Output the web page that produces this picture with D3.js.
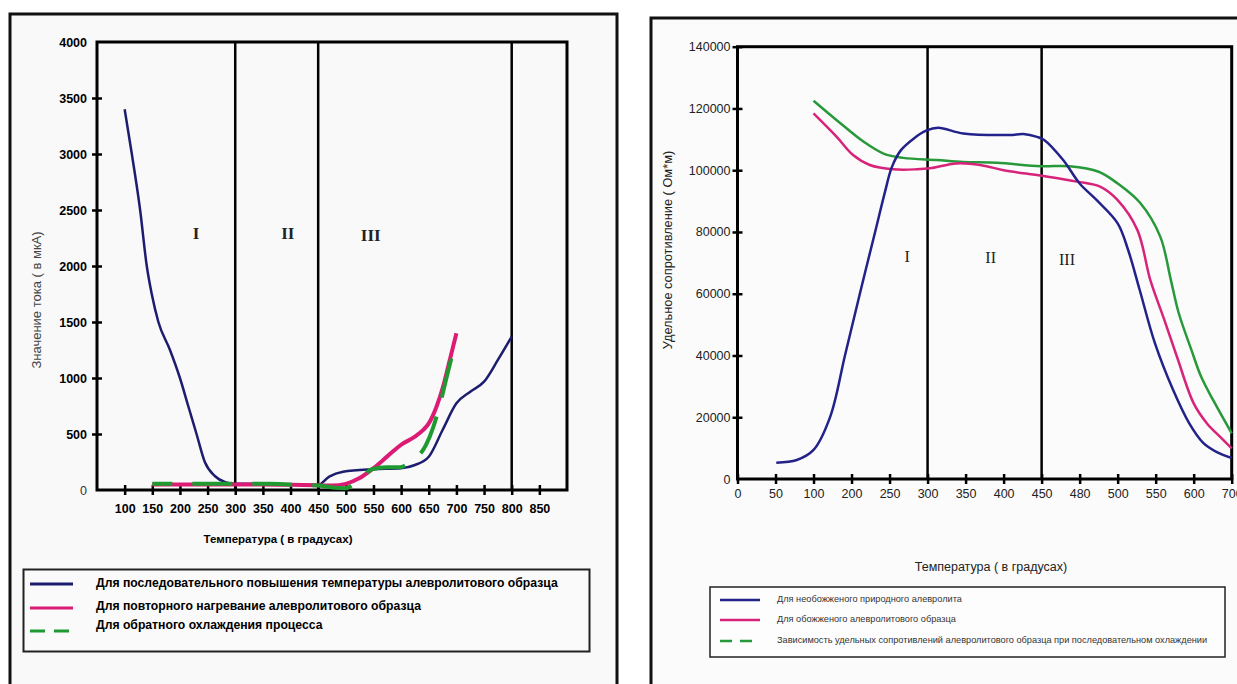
<!DOCTYPE html>
<html>
<head>
<meta charset="utf-8">
<script src="https://cdn.jsdelivr.net/npm/d3@7"></script>
<style>
  body { margin: 0; background: #fff; }
  svg { display: block; }
</style>
</head>
<body>
<svg id="chart" width="1237" height="684"></svg>
<script>
// ---------- Left chart: current (мкА) versus temperature ----------
const leftXTicks = [100, 150, 200, 250, 300, 350, 400, 450, 500, 550, 600, 650, 700, 750, 800, 850];
const leftYTicks = [0, 500, 1000, 1500, 2000, 2500, 3000, 3500, 4000];
const leftPhaseBounds = [300, 450, 800];
const leftPhaseLabels = ["I", "II", "III"];
const leftPhaseLabelAt = [[229, 2280], [395, 2280], [545, 2260]];

// sequential heating (temperature, current)
const leftHeating = [[100,3400],[113,3000],[128,2500],[140,2000],[149,1750],[161,1500],[182,1250],[200,1000],
  [215,750],[230,500],[245,250],[263,125],[282,70],[300,55],[350,55],[400,50],[450,45],[470,120],[495,163],
  [550,185],[600,194],[625,223],[650,297],[675,536],[700,774],[725,878],[750,967],[775,1161],[800,1369]];
// repeated heating
const leftReheating = [[150,50],[200,50],[250,50],[300,50],[350,50],[400,47],[450,42],[475,40],[500,55],
  [524,104],[550,195],[575,300],[601,408],[625,476],[640,536],[650,595],[664,744],[675,908],[688,1161],[700,1399]];
// reverse cooling
const leftCooling = [[150,55],[200,55],[250,55],[300,55],[350,55],[380,54],[410,45],[450,40],[475,22],[500,15],
  [514,54],[530,120],[547,185],[574,203],[598,203],[616,253],[645,402],[658,560],[670,760],[683,1020],[697,1300]];

const leftLegend = [
  "Для последовательного повышения температуры алевролитового образца",
  "Для повторного нагревание алевролитового образца",
  "Для обратного охлаждения процесса"
];

// ---------- Right chart: resistivity (Ом*м) versus temperature ----------
const rightXTicks = [0, 50, 100, 200, 250, 300, 350, 400, 450, 480, 500, 550, 600, 700];
const rightYTicks = [0, 20000, 40000, 60000, 80000, 100000, 120000, 140000];
const rightPhaseBounds = [300, 450];
const rightPhaseLabels = ["I", "II", "III"];
const rightPhaseLabelAt = [[273, 71500], [383, 71000], [470, 70500]];

// unburnt natural siltstone
const rightUnburnt = [[51,5300],[78,6150],[100,9400],[144,20200],[183,40150],[211,60100],[231,80000],
  [244,93000],[253,101000],[265,106500],[282,110300],[298,112800],[314,113750],[347,111900],[408,111400],
  [426,111700],[444,110800],[452,109800],[467,103300],[480,95700],[489,90300],[500,82800],[514,74000],
  [529,61200],[549,44000],[573,28800],[594,18100],[625,11700],[661,8700],[700,6800]];
// burnt sample
const rightBurnt = [[100,118400],[161,110800],[202,104900],[224,101700],[255,100300],[286,100300],[303,100600],
  [338,102200],[369,101700],[400,100000],[450,98200],[478,96300],[491,94600],[500,90300],[526,80600],
  [543,64400],[560,52500],[578,39600],[600,24500],[635,18000],[669,13700],[700,9900]];
// sequential cooling
const rightCooling = [[100,122500],[161,116200],[216,109200],[242,105400],[268,104000],[312,103300],[347,102700],
  [391,102400],[449,101300],[472,101300],[490,99500],[500,95700],[530,89300],[556,78500],[570,64400],
  [580,54000],[597,41800],[620,33000],[651,25600],[700,14800]];

const rightLegend = [
  "Для необожженого природного алевролита",
  "Для обожженого  алевролитового  образца",
  "Зависимость удельных сопротивлений алевролитового  образца при последовательном охлаждении"
];

const SANS = "'Liberation Sans', Arial, sans-serif";
const SERIF = "'Liberation Serif', 'Times New Roman', serif";
const BLUE = "#1d1d70", PINK = "#dc1c74", GREEN = "#1f9a30";
const BLUE_R = "#22228a", PINK_R = "#d8237a", GREEN_R = "#28993a";

const svg = d3.select("#chart");
svg.append("rect").attr("width", 1237).attr("height", 684).attr("fill", "#fff");

// panel frames
svg.append("rect").attr("x", 10).attr("y", 14).attr("width", 607).attr("height", 700)
  .attr("fill", "#f9f9f9").attr("stroke", "#111").attr("stroke-width", 3);
svg.append("rect").attr("x", 651).attr("y", 18).attr("width", 640).attr("height", 700)
  .attr("fill", "#fbfbfb").attr("stroke", "#111").attr("stroke-width", 3);

// ================= LEFT CHART =================
const L = { left: 97, top: 42, right: 567, bottom: 490 };
const xL = d3.scaleLinear().domain([50, 900]).range([L.left, L.right]);
const yL = d3.scaleLinear().domain([0, 4000]).range([L.bottom, L.top]);

const gL = svg.append("g");

// x axis
const axL = gL.append("g").attr("transform", `translate(0,${L.bottom})`)
  .call(d3.axisBottom(xL).tickValues(leftXTicks).tickFormat(d3.format("d")).tickSize(5).tickPadding(9));
axL.select(".domain").remove();
axL.selectAll(".tick line").attr("y1", -5).attr("y2", 5).attr("stroke", "#000").attr("stroke-width", 2.5);
axL.selectAll(".tick text").attr("font-family", SANS).attr("font-weight", "bold")
  .attr("font-size", 12.5).attr("fill", "#000");

// y axis
const ayL = gL.append("g").attr("transform", `translate(${L.left},0)`)
  .call(d3.axisLeft(yL).tickValues(leftYTicks).tickFormat(d3.format("d")).tickSize(5).tickPadding(5));
ayL.select(".domain").remove();
ayL.selectAll(".tick line").attr("x1", 5).attr("x2", -5).attr("stroke", "#000").attr("stroke-width", 2.5)
  .attr("display", d => (d === 0 || d === 4000) ? "none" : null);
ayL.selectAll(".tick text").attr("font-family", SANS)
  .attr("font-weight", d => d === 0 ? "normal" : "bold")
  .attr("font-size", 12.5).attr("fill", d => d === 0 ? "#333" : "#000");

// phase boundaries
gL.selectAll("line.phase").data(leftPhaseBounds).join("line").attr("class", "phase")
  .attr("x1", d => xL(d)).attr("x2", d => xL(d)).attr("y1", L.top).attr("y2", L.bottom)
  .attr("stroke", "#000").attr("stroke-width", 2.5);

// plot border
gL.append("rect").attr("x", L.left).attr("y", L.top).attr("width", L.right - L.left).attr("height", L.bottom - L.top)
  .attr("fill", "none").attr("stroke", "#000").attr("stroke-width", 3);

// phase labels
gL.selectAll("text.phase").data(leftPhaseLabels).join("text").attr("class", "phase")
  .attr("x", (d, i) => xL(leftPhaseLabelAt[i][0])).attr("y", (d, i) => yL(leftPhaseLabelAt[i][1]))
  .attr("text-anchor", "middle").attr("dominant-baseline", "middle")
  .attr("font-family", SERIF).attr("font-size", 17).attr("font-weight", "bold").attr("fill", "#222")
  .text(d => d);

// series
const lineL = d3.line().x(d => xL(d[0])).y(d => yL(d[1])).curve(d3.curveMonotoneX);
gL.append("path").datum(leftHeating).attr("d", lineL).attr("fill", "none")
  .attr("stroke", BLUE).attr("stroke-width", 2.5);
gL.append("path").datum(leftReheating).attr("d", lineL).attr("fill", "none")
  .attr("stroke", PINK).attr("stroke-width", 4);
gL.append("path").datum(leftCooling).attr("d", lineL).attr("fill", "none")
  .attr("stroke", GREEN).attr("stroke-width", 4).attr("stroke-dasharray", "40,20").attr("stroke-dashoffset", 20);

// axis titles
gL.append("text").attr("transform", "translate(41,300) rotate(-90)")
  .attr("text-anchor", "middle").attr("font-family", SANS).attr("font-size", 13).attr("fill", "#444")
  .text("Значение тока ( в мкА)");
gL.append("text").attr("x", 278).attr("y", 542.5).attr("text-anchor", "middle")
  .attr("font-family", SANS).attr("font-weight", "bold").attr("font-size", 11.5).attr("fill", "#000")
  .text("Температура ( в градусах)");

// legend
const lgL = gL.append("g");
lgL.append("rect").attr("x", 23.5).attr("y", 569.5).attr("width", 566).attr("height", 82)
  .attr("fill", "#fafafa").attr("stroke", "#222").attr("stroke-width", 2);
const legLY = [584, 608, 631];
const legLTextY = [584, 607, 626];
const legLStyle = [
  { c: BLUE, dash: null }, { c: PINK, dash: null }, { c: GREEN, dash: "15,9" }
];
leftLegend.forEach((t, i) => {
  lgL.append("line").attr("x1", 30).attr("x2", 73).attr("y1", legLY[i]).attr("y2", legLY[i])
    .attr("stroke", legLStyle[i].c).attr("stroke-width", 3).attr("stroke-dasharray", legLStyle[i].dash);
  lgL.append("text").attr("x", 96).attr("y", legLTextY[i]).attr("dominant-baseline", "middle")
    .attr("font-family", SANS).attr("font-weight", "bold").attr("font-size", 12.2).attr("fill", "#000").text(t);
});

// ================= RIGHT CHART =================
const R = { left: 737.5, top: 46.7, right: 1231.7, bottom: 479 };
const stepR = (R.right - R.left) / (rightXTicks.length - 1);
const xR = d3.scaleLinear().domain(rightXTicks).range(rightXTicks.map((d, i) => R.left + i * stepR));
const yR = d3.scaleLinear().domain([0, 140000]).range([R.bottom, R.top]);

const gR = svg.append("g");

const axR = gR.append("g").attr("transform", `translate(0,${R.bottom})`)
  .call(d3.axisBottom(xR).tickValues(rightXTicks).tickFormat(d3.format("d")).tickSize(5).tickPadding(5));
axR.select(".domain").remove();
axR.selectAll(".tick line").attr("y1", -5).attr("y2", 5).attr("stroke", "#000").attr("stroke-width", 2.5);
axR.selectAll(".tick text").attr("font-family", SANS).attr("font-size", 12.5).attr("fill", "#222");

const ayR = gR.append("g").attr("transform", `translate(${R.left},0)`)
  .call(d3.axisLeft(yR).tickValues(rightYTicks).tickFormat(d3.format("d")).tickSize(5).tickPadding(2));
ayR.select(".domain").remove();
ayR.selectAll(".tick line").attr("x1", 5).attr("x2", -5).attr("stroke", "#000").attr("stroke-width", 2.5)
  .attr("display", d => d === 0 ? "none" : null);
ayR.selectAll(".tick text").attr("font-family", SANS).attr("font-size", 12.5).attr("fill", "#222");

gR.selectAll("line.phase").data(rightPhaseBounds).join("line").attr("class", "phase")
  .attr("x1", d => xR(d)).attr("x2", d => xR(d)).attr("y1", R.top).attr("y2", R.bottom)
  .attr("stroke", "#000").attr("stroke-width", 2.5);

gR.append("rect").attr("x", R.left).attr("y", R.top).attr("width", R.right - R.left).attr("height", R.bottom - R.top)
  .attr("fill", "none").attr("stroke", "#000").attr("stroke-width", 3);

gR.selectAll("text.phase").data(rightPhaseLabels).join("text").attr("class", "phase")
  .attr("x", (d, i) => xR(rightPhaseLabelAt[i][0])).attr("y", (d, i) => yR(rightPhaseLabelAt[i][1]))
  .attr("text-anchor", "middle").attr("dominant-baseline", "middle")
  .attr("font-family", SERIF).attr("font-size", 16).attr("fill", "#222")
  .text(d => d);

const lineR = d3.line().x(d => xR(d[0])).y(d => yR(d[1])).curve(d3.curveCatmullRom.alpha(0.5));
gR.append("path").datum(rightCooling).attr("d", lineR).attr("fill", "none")
  .attr("stroke", GREEN_R).attr("stroke-width", 2.5);
gR.append("path").datum(rightBurnt).attr("d", lineR).attr("fill", "none")
  .attr("stroke", PINK_R).attr("stroke-width", 2.5);
gR.append("path").datum(rightUnburnt).attr("d", lineR).attr("fill", "none")
  .attr("stroke", BLUE_R).attr("stroke-width", 2.5);

gR.append("text").attr("transform", "translate(672,250) rotate(-90)")
  .attr("text-anchor", "middle").attr("font-family", SANS).attr("font-size", 12.8).attr("fill", "#222")
  .text("Удельное сопротивление ( Ом*м)");
gR.append("text").attr("x", 991).attr("y", 571).attr("text-anchor", "middle")
  .attr("font-family", SANS).attr("font-size", 12.5).attr("fill", "#222")
  .text("Температура ( в градусах)");

const lgR = gR.append("g");
lgR.append("rect").attr("x", 710).attr("y", 587).attr("width", 515).attr("height", 70)
  .attr("fill", "#fdfdfd").attr("stroke", "#222").attr("stroke-width", 1.5);
const legRY = [600, 620, 641];
const legRStyle = [
  { c: BLUE_R, dash: null }, { c: PINK_R, dash: null }, { c: GREEN_R, dash: "12,8" }
];
rightLegend.forEach((t, i) => {
  lgR.append("line").attr("x1", 720).attr("x2", 760).attr("y1", legRY[i]).attr("y2", legRY[i])
    .attr("stroke", legRStyle[i].c).attr("stroke-width", 2.5).attr("stroke-dasharray", legRStyle[i].dash);
  lgR.append("text").attr("x", 777).attr("y", legRY[i]).attr("dominant-baseline", "middle")
    .attr("font-family", SANS).attr("font-size", 9.2).attr("fill", "#333").text(t);
});
</script>
</body>
</html>
